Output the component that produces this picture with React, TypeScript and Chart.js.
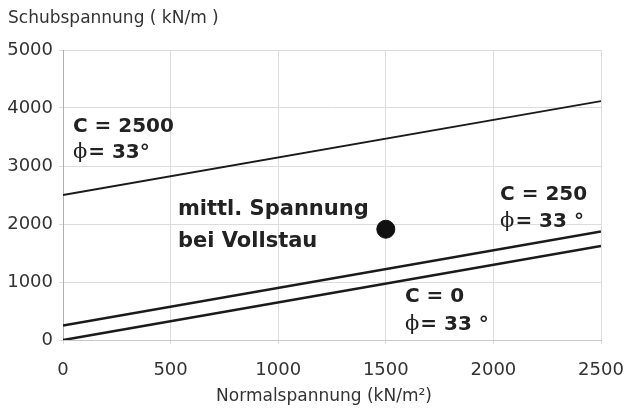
import React, { useEffect, useRef } from "react";
import { Chart, registerables } from "chart.js";

Chart.register(...registerables);

const xEnds = [0, 2500];
const lineC2500 = [2500, 4120];
const lineC250 = [250, 1870];
const lineC0 = [0, 1620];
const pointX = [1500];
const pointY = [1910];
const xTicks = [0, 500, 1000, 1500, 2000, 2500];
const yTicks = [0, 1000, 2000, 3000, 4000, 5000];

const yTitle = "Schubspannung ( kN/m )";
const xTitle = "Normalspannung (kN/m²)";

type Label = { x: number; y: number; text: string; phi?: boolean; size: number };
const labels: Label[] = [
  { x: 46, y: 3672, text: "C = 2500", size: 20 },
  { x: 46, y: 3224, text: "= 33°", phi: true, size: 20 },
  { x: 534, y: 2241, text: "mittl. Spannung", size: 21 },
  { x: 534, y: 1690, text: "bei Vollstau", size: 21 },
  { x: 2031, y: 2500, text: "C = 250", size: 20 },
  { x: 2031, y: 2034, text: "= 33 °", phi: true, size: 20 },
  { x: 1589, y: 741, text: "C = 0", size: 20 },
  { x: 1589, y: 259, text: "= 33 °", phi: true, size: 20 },
];

const FONT = "'DejaVu Sans', sans-serif";

const annotate = {
  id: "annotate",
  afterDatasetsDraw(chart: any) {
    const { ctx, scales } = chart;
    const xs = scales.x;
    const ys = scales.y;
    ctx.save();
    ctx.fillStyle = "#222";
    ctx.textBaseline = "middle";
    ctx.textAlign = "left";
    for (const l of labels) {
      let px = xs.getPixelForValue(l.x);
      const py = ys.getPixelForValue(l.y);
      if (l.phi) {
        ctx.font = `normal ${l.size + 1}px 'DejaVu Serif', serif`;
        ctx.fillText("ϕ", px, py);
        px += ctx.measureText("ϕ").width + 1;
      }
      ctx.font = `bold ${l.size}px ${FONT}`;
      ctx.fillText(l.text, px, py);
    }
    ctx.fillStyle = "#333";
    ctx.font = `normal 17px ${FONT}`;
    ctx.textAlign = "left";
    ctx.fillText(yTitle, 8, 19);
    ctx.textAlign = "center";
    ctx.fillText(xTitle, 324, 397);
    ctx.restore();
  },
};

export default function App() {
  const ref = useRef<HTMLCanvasElement>(null);
  useEffect(() => {
    document.body.style.margin = "0";
    const lineStyle = {
      showLine: true,
      borderColor: "#1a1a1a",
      pointRadius: 0,
      fill: false,
    };
    const fmt = (v: any) => String(v);
    const chart = new Chart(ref.current!, {
      type: "scatter",
      data: {
        datasets: [
          { ...lineStyle, borderWidth: 1.8, data: xEnds.map((x, i) => ({ x, y: lineC2500[i] })) },
          { ...lineStyle, borderWidth: 2.6, data: xEnds.map((x, i) => ({ x, y: lineC250[i] })) },
          { ...lineStyle, borderWidth: 2.6, data: xEnds.map((x, i) => ({ x, y: lineC0[i] })) },
          {
            data: pointX.map((x, i) => ({ x, y: pointY[i] })),
            pointRadius: 9,
            backgroundColor: "#111",
            borderColor: "#111",
            showLine: false,
          },
        ],
      },
      options: {
        animation: false,
        responsive: false,
        layout: { autoPadding: false, padding: { top: 50, right: 25, left: 0, bottom: 0 } },
        plugins: { legend: { display: false }, tooltip: { enabled: false } },
        scales: {
          x: {
            type: "linear",
            min: 0,
            max: 2500,
            afterBuildTicks: (s: any) => {
              s.ticks = xTicks.map((v) => ({ value: v }));
            },
            afterFit: (s: any) => {
              s.height = 72;
              s.paddingLeft = 0;
              s.paddingRight = 0;
            },
            grid: { color: "#dcdcdc", tickLength: 4, drawTicks: true },
            border: { color: "#c8c8c8" },
            ticks: { color: "#333", font: { family: FONT, size: 18 }, padding: 16, maxRotation: 0, callback: fmt },
          },
          y: {
            type: "linear",
            min: 0,
            max: 5000,
            afterBuildTicks: (s: any) => {
              s.ticks = yTicks.map((v) => ({ value: v }));
            },
            afterFit: (s: any) => {
              s.width = 63;
              s.paddingTop = 0;
              s.paddingBottom = 0;
            },
            grid: { color: "#dcdcdc", tickLength: 4, drawTicks: true },
            border: { color: "#b0b0b0" },
            ticks: { color: "#333", font: { family: FONT, size: 18 }, padding: 6, callback: fmt },
          },
        },
      },
      plugins: [annotate],
    } as any);
    return () => chart.destroy();
  }, []);
  return (
    <div style={{ width: 626, height: 412 }}>
      <canvas ref={ref} width={626} height={412} style={{ display: "block" }} />
    </div>
  );
}
